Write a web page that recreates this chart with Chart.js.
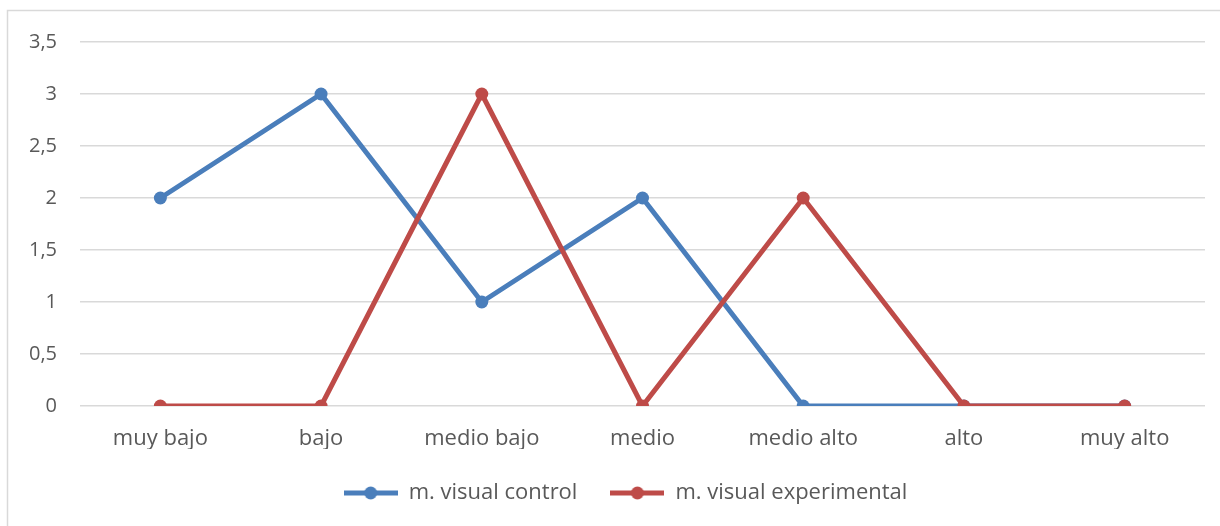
<!DOCTYPE html>
<html>
<head>
<meta charset="utf-8">
<script src="https://cdn.jsdelivr.net/npm/chart.js@4"></script>
<style>
  html, body { margin: 0; padding: 0; background: #fff; }
  #wrap { position: relative; width: 1220px; height: 526px; }
</style>
</head>
<body>
<div id="wrap"><canvas id="grafico" width="1220" height="526"></canvas></div>
<script>
// categorías y series
const categorias = ['muy bajo', 'bajo', 'medio bajo', 'medio', 'medio alto', 'alto', 'muy alto'];
const visualControl = [2, 3, 1, 2, 0, 0, 0];
const visualExperimental = [0, 0, 3, 0, 2, 0, 0];

const AZUL = '#4a7ebb';
const ROJO = '#be4b48';
const fuente = "'Open Sans', 'Liberation Sans', sans-serif";
const GRIS = '#595959';

// símbolo de leyenda: línea con punto al centro
function simbolo(color) {
    const c = document.createElement('canvas');
    c.width = 54; c.height = 14;
    const g = c.getContext('2d');
    g.strokeStyle = color;
    g.lineWidth = 5;
    g.beginPath(); g.moveTo(0, 7); g.lineTo(54, 7); g.stroke();
    g.fillStyle = color;
    g.beginPath(); g.arc(27, 7, 6.5, 0, Math.PI * 2); g.fill();
    return c;
}

// marco gris arriba e izquierda
const marco = {
    id: 'marco',
    beforeDraw(chart) {
        const ctx = chart.ctx;
        ctx.save();
        ctx.strokeStyle = '#d9d9d9';
        ctx.lineWidth = 1.5;
        ctx.beginPath();
        ctx.moveTo(7.5, 526);
        ctx.lineTo(7.5, 10.5);
        ctx.lineTo(1220, 10.5);
        ctx.stroke();
        ctx.restore();
    },
    // la leyenda va un poco a la derecha del centro
    afterLayout(chart) {
        if (chart.legend) {
            chart.legend.left += 23;
            chart.legend.right += 23;
        }
    }
};

new Chart(document.getElementById('grafico'), {
    type: 'line',
    data: {
        labels: categorias,
        datasets: [
            {
                label: 'm. visual control',
                data: visualControl,
                borderColor: AZUL,
                backgroundColor: AZUL,
                borderWidth: 5,
                pointRadius: 6.5,
                pointBackgroundColor: AZUL,
                pointBorderWidth: 0,
                tension: 0,
                order: 2
            },
            {
                label: 'm. visual experimental',
                data: visualExperimental,
                borderColor: ROJO,
                backgroundColor: ROJO,
                borderWidth: 5,
                pointRadius: 6.5,
                pointBackgroundColor: ROJO,
                pointBorderWidth: 0,
                tension: 0,
                order: 1
            }
        ]
    },
    options: {
        responsive: false,
        animation: false,
        layout: { padding: { left: 0, right: 15, top: 42, bottom: 12 } },
        scales: {
            x: {
                offset: true,
                grid: { display: false },
                border: { display: false },
                ticks: { color: GRIS, font: { family: fuente, size: 22 }, padding: 12, maxRotation: 0 },
                afterFit(axis) { axis.height = 43; }
            },
            y: {
                min: 0,
                max: 3.5,
                grid: { color: '#d9d9d9', lineWidth: 1.5, drawTicks: false },
                border: { display: false },
                ticks: {
                    stepSize: 0.5,
                    color: GRIS,
                    font: { family: fuente, size: 20 },
                    padding: 23,
                    callback: v => String(v).replace('.', ',')
                },
                afterFit(axis) { axis.width = 80; }
            }
        },
        plugins: {
            legend: {
                position: 'bottom',
                labels: {
                    color: GRIS,
                    font: { family: fuente, size: 22 },
                    usePointStyle: true,
                    pointStyleWidth: 54,
                    padding: 33,
                    generateLabels(chart) {
                        return chart.data.datasets.map((ds, i) => ({
                            text: ds.label,
                            fontColor: GRIS,
                            pointStyle: simbolo(ds.borderColor),
                            fillStyle: ds.borderColor,
                            strokeStyle: ds.borderColor,
                            lineWidth: 0,
                            datasetIndex: i,
                            hidden: false
                        }));
                    }
                }
            },
            tooltip: { enabled: false }
        }
    },
    plugins: [marco]
});
</script>
</body>
</html>
